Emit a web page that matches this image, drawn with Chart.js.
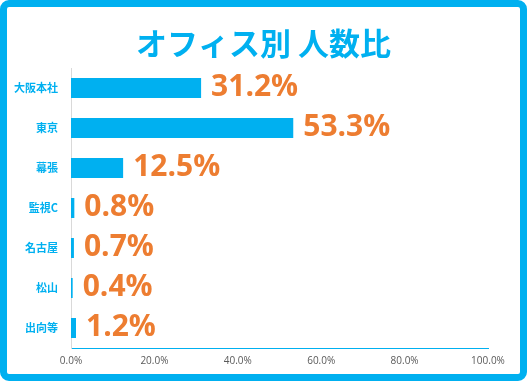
<!DOCTYPE html>
<html>
<head>
<meta charset="utf-8">
<script src="https://cdn.jsdelivr.net/npm/chart.js@4/dist/chart.umd.min.js"></script>
<style>
  html, body { margin: 0; padding: 0; background: #ffffff; }
  #wrap {
    position: absolute; left: 0; top: 0;
    width: 527px; height: 381px;
    box-sizing: border-box;
    border: 7px solid #00B0F0;
    border-radius: 9px;
    background: #ffffff;
  }
  #box { position: relative; width: 513px; height: 367px; }
</style>
</head>
<body>
<div id="wrap"><div id="box"><canvas id="c"></canvas></div></div>
<script>
const categories = ['大阪本社', '東京', '幕張', '監視C', '名古屋', '松山', '出向等'];
const shares = [31.2, 53.3, 12.5, 0.8, 0.7, 0.4, 1.2];
const xTickLabels = ['0.0%', '20.0%', '40.0%', '60.0%', '80.0%', '100.0%'];
const chartTitle = 'オフィス別 人数比';

const BLUE = '#00B0F0';
const ORANGE = '#ED7D31';
const JP = '"Noto Sans CJK JP", "Noto Sans", sans-serif';
const LAT = '"Open Sans", "Noto Sans", sans-serif';

const centeredTitle = {
  id: 'centeredTitle',
  afterDraw(chart) {
    const ctx = chart.ctx;
    ctx.save();
    ctx.font = 'bold 31px ' + JP;
    ctx.fillStyle = BLUE;
    ctx.textAlign = 'center';
    ctx.textBaseline = 'middle';
    ctx.fillText(chartTitle, chart.width / 2, 36);
    ctx.restore();
  }
};

const valueLabels = {
  id: 'valueLabels',
  afterDatasetsDraw(chart) {
    const ctx = chart.ctx;
    const meta = chart.getDatasetMeta(0);
    const data = chart.data.datasets[0].data;
    ctx.save();
    ctx.font = 'bold 30px ' + LAT;
    ctx.fillStyle = ORANGE;
    ctx.textAlign = 'left';
    ctx.textBaseline = 'alphabetic';
    meta.data.forEach((el, i) => {
      ctx.fillText(data[i].toFixed(1) + '%', el.x + 10, el.y + 8);
    });
    ctx.restore();
  }
};

new Chart(document.getElementById('c'), {
  type: 'bar',
  data: {
    labels: categories,
    datasets: [{
      data: shares,
      backgroundColor: BLUE,
      borderWidth: 0,
      barPercentage: 0.5,
      categoryPercentage: 1.0
    }]
  },
  options: {
    indexAxis: 'y',
    responsive: true,
    maintainAspectRatio: false,
    animation: false,
    layout: { padding: { left: 0, right: 32, top: 61, bottom: 0 } },
    plugins: {
      legend: { display: false },
      tooltip: { enabled: false },
      title: { display: false }
    },
    scales: {
      x: {
        min: 0,
        max: 100,
        ticks: {
          stepSize: 20,
          color: '#595959',
          font: { family: LAT, size: 10 },
          padding: 7,
          callback: (v, i) => xTickLabels[i]
        },
        grid: { display: false, drawTicks: false },
        border: { display: true, color: BLUE, width: 1 },
        afterFit: (s) => { s.height = 26; }
      },
      y: {
        ticks: {
          color: BLUE,
          font: { family: JP, size: 11, weight: 'bold' },
          padding: 13
        },
        grid: { display: false, drawTicks: false },
        border: { display: true, color: '#D9D9D9', width: 1 },
        afterFit: (s) => { s.width = 64; }
      }
    }
  },
  plugins: [valueLabels, centeredTitle]
});
</script>
</body>
</html>
